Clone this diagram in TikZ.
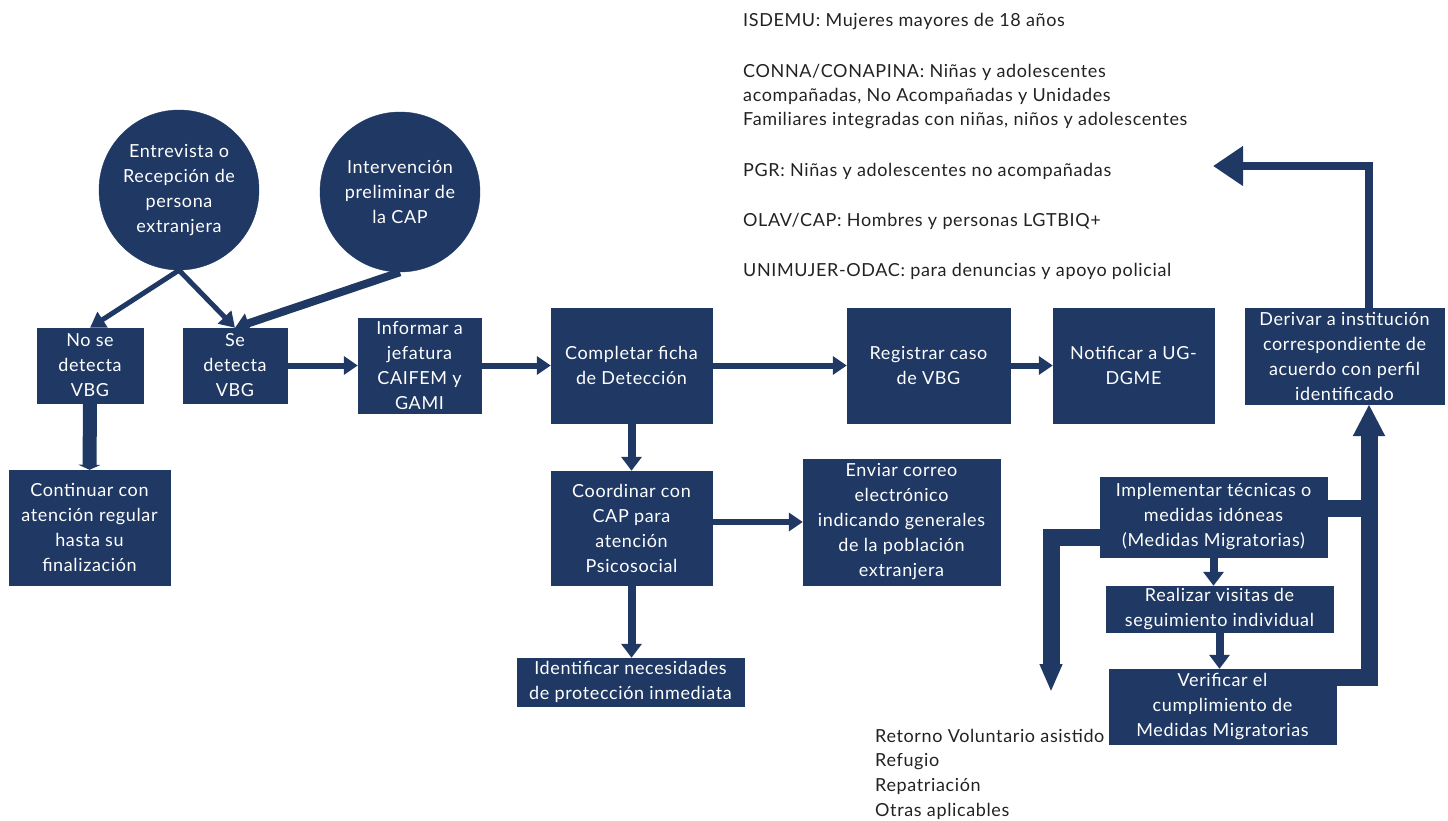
\documentclass[tikz,border=0pt]{standalone}
\usepackage{fontspec}
\setmainfont{Lato}[LetterSpace=3.5]
\usetikzlibrary{arrows.meta,calc}
\definecolor{dblue}{HTML}{1F3864}
\definecolor{ltext}{HTML}{222222}
\tikzset{
  box/.style={rectangle, fill=dblue, draw=dblue, text=white, align=center, inner sep=0pt,
    font=\fontsize{18}{25}\selectfont},
  circ/.style={circle, fill=dblue, draw=dblue, text=white, align=center, inner sep=0pt,
    minimum size=160pt, font=\fontsize{18}{25}\selectfont},
  lbl/.style={anchor=west, align=left, text=ltext, inner sep=0pt, font=\fontsize{18}{24}\selectfont},
  arr/.style={draw=dblue, line width=6pt, -{Triangle[length=14pt,width=18pt]}},
  arrthin/.style={draw=dblue, line width=5pt, -{Triangle[length=15pt,width=18pt]}},
  arrmid/.style={draw=dblue, line width=8pt, -{Triangle[length=14pt,width=20pt]}},
  arrfat/.style={draw=dblue, line width=14pt, -{Triangle[length=5pt,width=22pt]}},
  bigarr/.style={draw=dblue, line width=17pt, -{Triangle[length=32pt,width=30pt]}},
  downarr/.style={draw=dblue, line width=17pt, -{Triangle[length=28pt,width=21pt]}},
  bigline/.style={draw=dblue, line width=17pt},
  toparr/.style={draw=dblue, line width=8pt, -{Triangle[length=30pt,width=38pt]}},
}
\begin{document}
\begin{tikzpicture}[x=1pt,y=-1pt]
\useasboundingbox (0,0) rectangle (1448,821);

% circles
\node[circ] (c1) at (179,190) {Entrevista o\\Recepción de\\persona\\extranjera};
\node[circ] (c2) at (400,192) {Intervención\\preliminar de\\la CAP};

% boxes
\node[box, minimum width=106pt, minimum height=75pt] (nose) at (90,365.5) {No se\\detecta\\VBG};
\node[box, minimum width=104pt, minimum height=75pt] (se) at (235,365.5) {Se\\detecta\\VBG};
\node[box, minimum width=123pt, minimum height=95pt] (inf) at (419.5,365.5) {Informar a\\jefatura\\CAIFEM y\\GAMI};
\node[box, minimum width=161pt, minimum height=115pt] (comp) at (631.5,365.5) {Completar ficha\\de Detección};
\node[box, minimum width=163pt, minimum height=115pt] (reg) at (928.5,365.5) {Registrar caso\\de VBG};
\node[box, minimum width=161pt, minimum height=115pt] (noti) at (1133.5,365.5) {Notificar a UG-\\DGME};
\node[box, minimum width=199pt, minimum height=96pt] (der) at (1344.5,356) {Derivar a institución\\correspondiente de\\acuerdo con perfil\\identificado};
\node[box, minimum width=161pt, minimum height=114pt] (coord) at (631.5,528) {Coordinar con\\CAP para\\atención\\Psicosocial};
\node[box, minimum width=197pt, minimum height=126pt] (env) at (901.5,522) {Enviar correo\\electrónico\\indicando generales\\de la población\\extranjera};
\node[box, minimum width=227pt, minimum height=48pt] (ident) at (630.5,682) {Identificar necesidades\\de protección inmediata};
\node[box, minimum width=161pt, minimum height=115pt] (cont) at (89.5,527.5) {Continuar con\\atención regular\\hasta su\\finalización};
\node[box, minimum width=227pt, minimum height=80pt] (impl) at (1213.5,517) {Implementar técnicas o\\medidas idóneas\\(Medidas Migratorias)};
\node[box, minimum width=227pt, minimum height=46pt] (real) at (1219.5,609) {Realizar visitas de\\seguimiento individual};
\node[box, minimum width=227pt, minimum height=75pt] (ver) at (1222.5,706.5) {Verificar el\\cumplimiento de\\Medidas Migratorias};

% texts
\node[lbl] (t1) at (743,22) {ISDEMU: Mujeres mayores de 18 años};
\node[lbl] (t2) at (743,97) {CONNA/CONAPINA: Niñas y adolescentes\\acompañadas, No Acompañadas y Unidades\\Familiares integradas con niñas, niños y adolescentes};
\node[lbl] (t3) at (743,171) {PGR: Niñas y adolescentes no acompañadas};
\node[lbl] (t4) at (743,221) {OLAV/CAP: Hombres y personas LGTBIQ+};
\node[lbl] (t5) at (743,271) {UNIMUJER-ODAC: para denuncias y apoyo policial};
\node[lbl, font=\fontsize{18}{24.7}\selectfont] (t6) at (875,774) {Retorno Voluntario asistido\\Refugio\\Repatriación\\Otras aplicables};

% helper coordinates
\coordinate (vx) at (1369,0);
\coordinate (ltip) at (1051,692);
\coordinate (dtip) at (1213,166);

% connectors
\draw[arrthin] (c1.south) -- (nose.north);
\draw[arrthin] (c1.south) -- (se.north);
\draw[arrmid] (c2.south) -- (se.north);
\draw[arr] (se.east) -- (inf.west);
\draw[arr] (inf.east) -- (comp.west);
\draw[arr] (comp.east) -- (reg.west);
\draw[arr] (reg.east) -- (noti.west);
\draw[arrfat] (nose.south) -- (cont.north);
\draw[arrmid] (comp.south) -- (coord.north);
\draw[arrmid] (coord.south) -- (coord.south |- ident.north);
\draw[arr] (coord.east |- env.west) -- (env.west);
\draw[arrmid] (impl.south) -- (impl.south |- real.north);
\draw[arrmid] (real.south) -- (real.south |- ver.north);
\draw[bigline] ([yshift=9pt]impl.east) -- ([yshift=9pt]impl.east -| vx);
\draw[bigarr] ([yshift=29.5pt]ver.east) -| (der.south -| vx);
\draw[downarr] ([yshift=-20pt]impl.west) -| (ltip);
\draw[toparr] (der.north -| vx) |- (dtip);
\end{tikzpicture}
\end{document}
